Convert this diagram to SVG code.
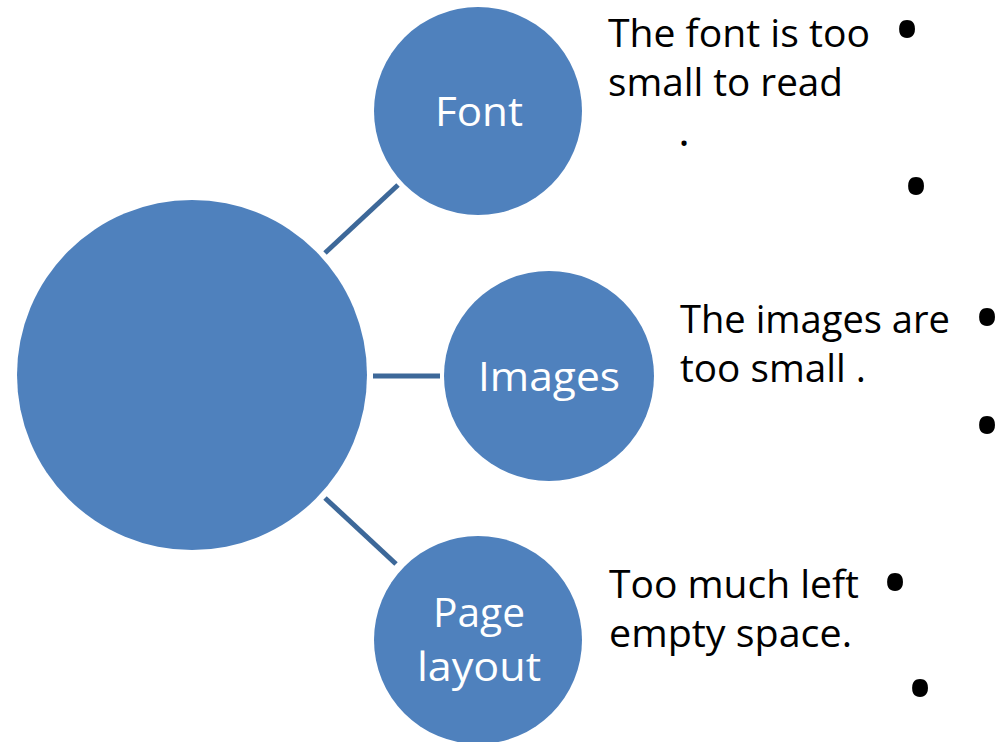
<svg xmlns="http://www.w3.org/2000/svg" width="995" height="742" viewBox="0 0 995 742">
<style>
.node{fill:#4f81bd}
.lbl{fill:#ffffff;font-family:"Open Sans","Noto Sans",sans-serif;font-size:40px;text-anchor:middle}
.txt{fill:#000000;font-family:"Open Sans","Noto Sans",sans-serif;font-size:38px}
.bul{fill:#000000;font-family:"Open Sans","Noto Sans",sans-serif;font-size:76px;text-anchor:middle}
.conn{stroke:#3d6899;stroke-width:5;fill:none}
</style>
<rect width="995" height="742" fill="#ffffff"/>
<g id="connectors">
<line class="conn" x1="325" y1="253" x2="398" y2="185"/>
<line class="conn" x1="373" y1="376" x2="440" y2="376"/>
<line class="conn" x1="325" y1="498" x2="396" y2="564"/>
</g>
<g id="center"><circle class="node" cx="192" cy="375" r="175"/></g>
<g id="font">
<circle class="node" cx="478" cy="111" r="104"/>
<text class="lbl" x="479" y="126" textLength="88" lengthAdjust="spacingAndGlyphs">Font</text>
</g>
<g id="images">
<circle class="node" cx="549" cy="376" r="105"/>
<text class="lbl" x="549" y="391" textLength="142" lengthAdjust="spacingAndGlyphs">Images</text>
</g>
<g id="page-layout">
<circle class="node" cx="478" cy="640" r="104"/>
<text class="lbl" x="479" y="627" textLength="92" lengthAdjust="spacingAndGlyphs">Page</text>
<text class="lbl" x="479" y="681" textLength="124" lengthAdjust="spacingAndGlyphs">layout</text>
</g>
<g id="font-text">
<text class="txt" x="608" y="47" textLength="262" lengthAdjust="spacingAndGlyphs">The font is too</text>
<text class="txt" x="608" y="96" textLength="235" lengthAdjust="spacingAndGlyphs">small to read</text>
<text class="txt" x="684" y="146" text-anchor="middle" style="font-size:44px">.</text>
<text class="bul" x="907" y="57">•</text>
<text class="bul" x="916" y="214">•</text>
</g>
<g id="images-text">
<text class="txt" x="680" y="333" textLength="270" lengthAdjust="spacingAndGlyphs">The images are</text>
<text class="txt" x="680" y="382" textLength="186" lengthAdjust="spacingAndGlyphs">too small .</text>
<text class="bul" x="987" y="345">•</text>
<text class="bul" x="987" y="453">•</text>
</g>
<g id="layout-text">
<text class="txt" x="609" y="598" textLength="250" lengthAdjust="spacingAndGlyphs">Too much left</text>
<text class="txt" x="609" y="647" textLength="243" lengthAdjust="spacingAndGlyphs">empty space.</text>
<text class="bul" x="895" y="610">•</text>
<text class="bul" x="920" y="716">•</text>
</g>
</svg>
